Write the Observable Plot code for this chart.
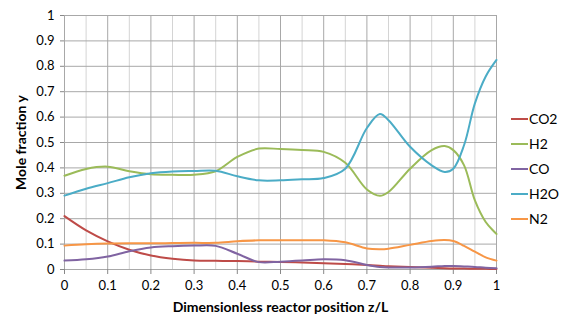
<!DOCTYPE html>
<html>
<head>
<meta charset="utf-8">
<script src="https://cdn.jsdelivr.net/npm/d3@7"></script>
<script src="https://cdn.jsdelivr.net/npm/@observablehq/plot@0.6"></script>
<style>
  body { margin: 0; background: #fff; }
  #chart { position: relative; width: 567px; height: 324px; font-family: Lato, "Open Sans", sans-serif; }
  #chart svg [aria-label$="axis label"] text { font-weight: bold; font-size: 14px; }
  #legend { position: absolute; left: 511px; top: 106px; font-size: 14px; color: #000; }
  #legend .item { display: flex; align-items: center; height: 25px; }
  #legend .swatch { width: 17px; height: 2px; margin-right: 1px; }
</style>
</head>
<body>
<div id="chart"></div>
<script>
// Axial position along the reactor (z/L)
const position = [0, 0.05, 0.1, 0.15, 0.2, 0.25, 0.3, 0.35, 0.4, 0.45, 0.5, 0.55, 0.6, 0.65, 0.7, 0.73, 0.75, 0.8, 0.85, 0.88, 0.9, 0.925, 0.95, 0.975, 1];

// Mole fractions per species
const co2 = [0.21, 0.154, 0.111, 0.078, 0.055, 0.042, 0.035, 0.034, 0.033, 0.031, 0.030, 0.028, 0.025, 0.022, 0.018, 0.015, 0.013, 0.010, 0.007, 0.005, 0.004, 0.0035, 0.003, 0.0025, 0.002];
const h2  = [0.369, 0.396, 0.405, 0.387, 0.375, 0.373, 0.373, 0.387, 0.443, 0.476, 0.474, 0.47, 0.463, 0.42, 0.315, 0.29, 0.305, 0.397, 0.47, 0.486, 0.47, 0.41, 0.272, 0.187, 0.14];
const co  = [0.035, 0.04, 0.051, 0.072, 0.087, 0.092, 0.094, 0.093, 0.062, 0.029, 0.031, 0.035, 0.04, 0.036, 0.018, 0.01, 0.008, 0.008, 0.011, 0.014, 0.014, 0.012, 0.01, 0.007, 0.005];
const h2o = [0.291, 0.318, 0.34, 0.363, 0.379, 0.386, 0.388, 0.389, 0.367, 0.351, 0.351, 0.355, 0.36, 0.397, 0.557, 0.612, 0.588, 0.483, 0.41, 0.384, 0.397, 0.49, 0.654, 0.76, 0.825];
const n2  = [0.094, 0.099, 0.102, 0.103, 0.103, 0.104, 0.105, 0.105, 0.111, 0.115, 0.115, 0.115, 0.115, 0.107, 0.083, 0.08, 0.082, 0.097, 0.112, 0.116, 0.112, 0.093, 0.07, 0.048, 0.035];

const species = ["CO2", "H2", "CO", "H2O", "N2"];
const colors = ["#BE4B48", "#9BBB59", "#8064A2", "#4BACC6", "#F79646"];
const seriesValues = [co2, h2, co, h2o, n2];

// Axis ticks and grid positions
const xTicks = [0, 0.1, 0.2, 0.3, 0.4, 0.5, 0.6, 0.7, 0.8, 0.9, 1];
const xMinor = [0.05, 0.15, 0.25, 0.35, 0.45, 0.55, 0.65, 0.75, 0.85, 0.95];
const yTicks = [0, 0.1, 0.2, 0.3, 0.4, 0.5, 0.6, 0.7, 0.8, 0.9, 1];

const rows = species.flatMap((s, i) =>
  position.map((z, j) => ({species: s, z, y: seriesValues[i][j]}))
);

const fmt = d => d === 0 ? "0" : d === 1 ? "1" : String(+d.toFixed(1));

const plot = Plot.plot({
  width: 567,
  height: 324,
  marginLeft: 64,
  marginRight: 71,
  marginTop: 15,
  marginBottom: 55,
  style: {fontFamily: "Lato, 'Open Sans', sans-serif", fontSize: "13px", color: "#000", background: "#fff"},
  x: {domain: [0, 1]},
  y: {domain: [0, 1]},
  color: {domain: species, range: colors},
  marks: [
    Plot.ruleX(xMinor, {stroke: "#d4d4d4", strokeWidth: 1}),
    Plot.ruleX(xTicks, {stroke: "#a8a8a8", strokeWidth: 1}),
    Plot.ruleY(yTicks, {stroke: "#a8a8a8", strokeWidth: 1}),
    Plot.axisX({
      ticks: xTicks, tickFormat: fmt, tickSize: 5, tickPadding: 6, stroke: "#888",
      label: "Dimensionless reactor position z/L", labelAnchor: "center", labelArrow: "none", labelOffset: 42
    }),
    Plot.axisY({
      ticks: yTicks, tickFormat: fmt, tickSize: 4, tickPadding: 6, stroke: "#888",
      label: "Mole fraction y", labelAnchor: "center", labelArrow: "none", labelOffset: 48
    }),
    Plot.line(rows, {x: "z", y: "y", z: "species", stroke: "species", strokeWidth: 2, curve: "catmull-rom"})
  ]
});

const chart = document.getElementById("chart");
chart.appendChild(plot);

const legend = document.createElement("div");
legend.id = "legend";
species.forEach((s, i) => {
  const item = document.createElement("div");
  item.className = "item";
  const sw = document.createElement("span");
  sw.className = "swatch";
  sw.style.background = colors[i];
  const label = document.createElement("span");
  label.textContent = s;
  item.appendChild(sw);
  item.appendChild(label);
  legend.appendChild(item);
});
chart.appendChild(legend);
</script>
</body>
</html>
